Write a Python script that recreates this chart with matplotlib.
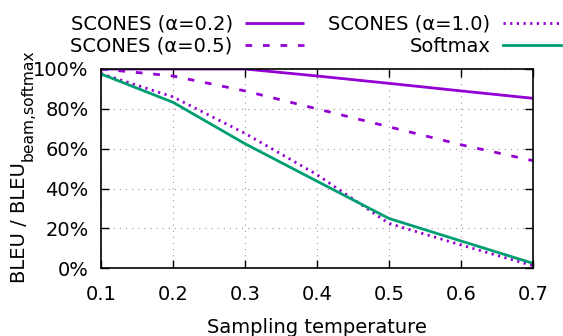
import matplotlib
matplotlib.use("Agg")
import matplotlib.pyplot as plt
from matplotlib.ticker import FuncFormatter

temps = [0.1, 0.2, 0.3, 0.4, 0.5, 0.6, 0.7]
scones_02 = [100.0, 100.0, 100.0, 96.5, 92.8, 89.0, 85.3]
scones_05 = [100.0, 96.5, 89.0, 80.0, 71.0, 62.0, 54.0]
scones_10 = [97.7, 86.0, 67.7, 47.0, 22.5, 11.7, 1.3]
softmax = [97.5, 83.3, 62.5, 43.7, 25.0, 13.7, 2.5]

purple = "#9400D3"
green = "#009E73"
fs = 14
W, H = 563, 336

fig = plt.figure(figsize=(W/100, H/100), dpi=100)
ax = fig.add_axes([101/W, 1-268.3/H, (533-101)/W, (268.3-69)/H])

l1, = ax.plot(temps, scones_02, color=purple, lw=2.0, solid_capstyle="butt")
l2, = ax.plot(temps, scones_05, color=purple, lw=2.0, dashes=(2.4, 3.9))
l3, = ax.plot(temps, scones_10, color=purple, lw=2.0, dashes=(0.8, 1.6))
l4, = ax.plot(temps, softmax, color=green, lw=2.0)

ax.set_xlim(0.1, 0.7)
ax.set_ylim(0, 100)
ax.set_xticks(temps)
ax.set_yticks([0, 20, 40, 60, 80, 100])
ax.yaxis.set_major_formatter(FuncFormatter(lambda v, p: f"{int(v)}%"))
ax.tick_params(direction="in", length=6, width=1, top=True, right=True,
               labelsize=fs, pad=9, colors="black")
ax.tick_params(axis="x", pad=12)
ax.grid(True, color="#999999", linestyle=(0, (1, 4.5)), linewidth=0.8)
for s in ax.spines.values():
    s.set_linewidth(1.2)
    s.set_color("black")

ax.set_xlabel("Sampling temperature", fontsize=fs, labelpad=10)

# y label with gnuplot-like larger subscript
main = fig.text(25/W, 1-283/H, "BLEU / BLEU", rotation=90, rotation_mode="anchor",
                ha="left", va="baseline", fontsize=fs)
fig.canvas.draw()
ext = main.get_window_extent(fig.canvas.get_renderer())
fig.text(33/W, (ext.y1 + 1)/H, "beam,softmax", rotation=90, rotation_mode="anchor",
         ha="left", va="baseline", fontsize=fs*0.8)

fig.legend([l1, l2, l3, l4],
           ["SCONES (α=0.2)", "SCONES (α=0.5)", "SCONES (α=1.0)", "Softmax"],
           ncol=2, markerfirst=False, frameon=False, fontsize=fs,
           loc="upper left", bbox_to_anchor=(70.5/W, 1-14.5/H),
           borderpad=0, borderaxespad=0, handlelength=3.0, handletextpad=0.65,
           columnspacing=1.25, labelspacing=0.17)

fig.savefig("out.png", dpi=100)
